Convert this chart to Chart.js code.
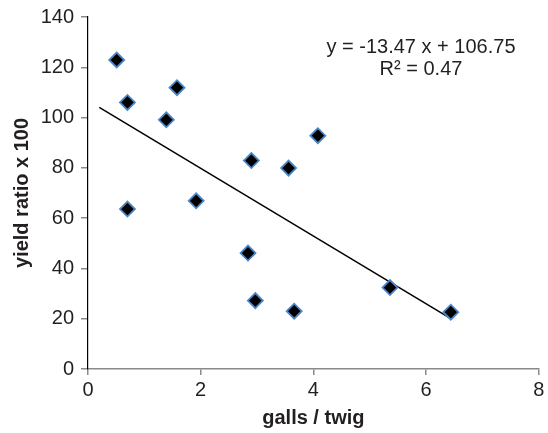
<!DOCTYPE html>
<html>
<head>
<meta charset="utf-8">
<script src="https://cdn.jsdelivr.net/npm/chart.js@4/dist/chart.umd.min.js"></script>
<style>
    html, body { margin: 0; padding: 0; background: #fff; }
    #wrap { width: 548px; height: 433px; position: relative; }
</style>
</head>
<body>
<div id="wrap"><canvas id="chart"></canvas></div>
<script>
// galls per twig vs yield ratio
const gallsPerTwig = [0.51, 0.70, 0.70, 1.39, 1.58, 1.92, 2.84, 2.90, 2.97, 3.56, 3.66, 4.08, 5.36, 6.44];
const yieldRatio = [122.9, 106.0, 63.6, 99.1, 111.9, 66.9, 46.1, 82.9, 27.2, 79.9, 23.0, 92.8, 32.4, 22.6];

// trend line as printed on the chart
const slope = -13.47;
const intercept = 106.75;
const rSquared = 0.47;
const trendX = [0.2, 6.44];

const xTicks = [0, 2, 4, 6, 8];
const yTicks = [0, 20, 40, 60, 80, 100, 120, 140];

const textColor = '#231f20';
const axisGrey = '#8a8a8a';

const points = gallsPerTwig.map((x, i) => ({ x, y: yieldRatio[i] }));
const trend = trendX.map(x => ({ x, y: slope * x + intercept }));

// Equation label in the top right
const equationLabel = {
    id: 'equationLabel',
    afterDraw(chart) {
        const { ctx, chartArea } = chart;
        ctx.save();
        ctx.fillStyle = textColor;
        ctx.font = '20px "Liberation Sans", Arial, sans-serif';
        ctx.textAlign = 'center';
        ctx.textBaseline = 'middle';
        const cx = chartArea.left + 333;
        ctx.fillText(`y = ${slope.toFixed(2)} x + ${intercept.toFixed(2)}`, cx, chartArea.top + 30);
        ctx.fillText(`R² = ${rSquared.toFixed(2)}`, cx, chartArea.top + 52);
        ctx.restore();
    }
};

new Chart(document.getElementById('chart'), {
    type: 'scatter',
    data: {
        datasets: [
            {
                type: 'line',
                data: trend,
                borderColor: '#000',
                borderWidth: 1.5,
                pointRadius: 0,
                fill: false,
                order: 2,
            },
            {
                data: points,
                pointStyle: 'rectRot',
                pointRadius: 7.5,
                pointBackgroundColor: '#000',
                pointBorderColor: '#4a86c8',
                pointBorderWidth: 1.8,
                order: 1,
            }
        ]
    },
    options: {
        responsive: true,
        maintainAspectRatio: false,
        animation: false,
        layout: { padding: { left: 0, right: 6, top: 17, bottom: 0 } },
        plugins: {
            legend: { display: false },
            tooltip: { enabled: false },
        },
        scales: {
            x: {
                type: 'linear',
                min: 0,
                max: 8,
                afterFit: s => { s.height = 64; s.paddingLeft = 0; s.paddingRight = 0; },
                afterBuildTicks: s => { s.ticks = xTicks.map(v => ({ value: v })); },
                border: { color: axisGrey, width: 1.5 },
                grid: { drawOnChartArea: false, color: axisGrey, tickLength: 6, lineWidth: 1.5 },
                ticks: {
                    color: textColor,
                    padding: 3,
                    font: { family: '"Liberation Sans", Arial, sans-serif', size: 20 },
                },
                title: {
                    display: true,
                    text: 'galls / twig',
                    color: textColor,
                    padding: { top: 0, bottom: 3 },
                    font: { family: '"Liberation Sans", Arial, sans-serif', size: 20, weight: 'bold' },
                }
            },
            y: {
                type: 'linear',
                min: 0,
                max: 140,
                afterFit: s => { s.width = 88; s.paddingTop = 0; s.paddingBottom = 0; },
                afterBuildTicks: s => { s.ticks = yTicks.map(v => ({ value: v })); },
                border: { color: '#000', width: 1.2 },
                grid: { drawOnChartArea: false, color: axisGrey, tickLength: 7, lineWidth: 1.5 },
                ticks: {
                    color: textColor,
                    padding: 7,
                    font: { family: '"Liberation Sans", Arial, sans-serif', size: 20 },
                },
                title: {
                    display: true,
                    text: 'yield ratio x 100',
                    color: textColor,
                    padding: { top: 10, bottom: 0 },
                    font: { family: '"Liberation Sans", Arial, sans-serif', size: 20, weight: 'bold' },
                }
            }
        }
    },
    plugins: [equationLabel]
});
</script>
</body>
</html>
